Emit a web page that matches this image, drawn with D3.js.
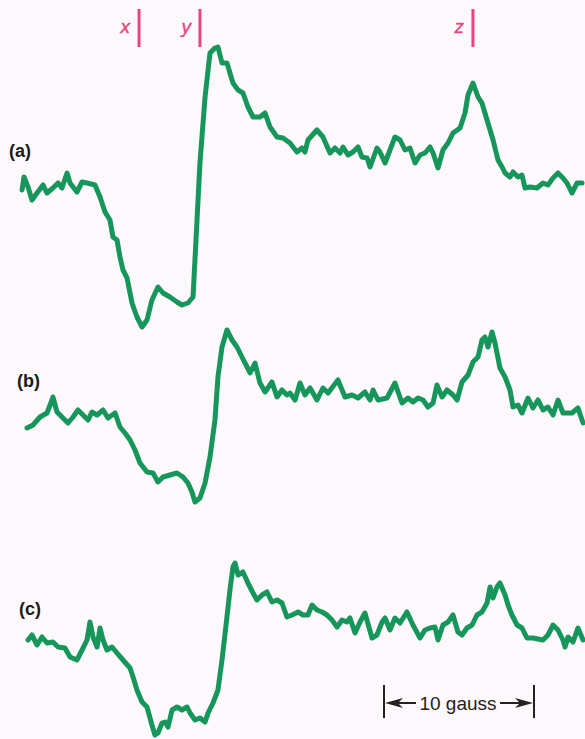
<!DOCTYPE html>
<html><head><meta charset="utf-8">
<script src="https://cdn.jsdelivr.net/npm/d3@7"></script>
<style>html,body{margin:0;padding:0;background:#fcf8fc;}svg{display:block;}</style>
</head><body><svg id="chart" width="585" height="739"></svg>
<script>
// Field in gauss (from left edge of sweep), signal in arbitrary units (derivative EPR)
const traceA = [[1.47,-0.5],[1.6,0.8],[1.87,-0.2],[2.13,-1.5],[2.47,-0.8],[2.87,0],[3.13,-0.8],[3.53,-0.3],[3.87,0.2],[4.13,-0.3],[4.47,1.2],[4.67,0.2],[5.13,-0.7],[5.47,0.3],[5.8,0.2],[6.33,0],[6.67,-1.2],[7,-2.7],[7.33,-3.5],[7.53,-5.2],[7.8,-5.5],[8,-7.2],[8.2,-8.5],[8.47,-9.3],[8.8,-11.8],[9.13,-13.2],[9.47,-14.2],[9.8,-13.5],[10.13,-11.5],[10.53,-10.2],[10.87,-10.8],[11.33,-11.2],[11.8,-11.7],[12.13,-12],[12.53,-11.8],[12.87,-11.2],[13.33,2.2],[13.67,8.8],[14,13.2],[14.33,13.7],[14.53,13.8],[14.8,12.2],[15.13,12.2],[15.53,10.2],[15.87,9.5],[16.2,9.2],[16.53,7.8],[16.87,6.8],[17.33,6.8],[17.67,7.2],[18,5.8],[18.47,4.8],[18.87,4.7],[19.33,4.2],[19.8,3.3],[20.13,3.7],[20.33,3.3],[20.53,4.5],[21.13,5.5],[21.53,4.8],[22,3.2],[22.33,3.7],[22.67,3.2],[22.87,3.8],[23.2,3],[23.53,3.3],[23.87,3.8],[24.13,2.8],[24.47,2.7],[24.67,1.8],[25.13,3.7],[25.33,3.3],[25.67,2.2],[26,3.5],[26.33,4.8],[26.67,4.5],[27,3.5],[27.33,3.7],[27.67,2.2],[28,3],[28.33,3.2],[28.67,3.8],[28.87,3.2],[29.2,1.7],[29.53,3.5],[29.87,4.2],[30.2,5.2],[30.67,5.7],[31,7.2],[31.2,9],[31.53,10.2],[31.87,8.8],[32.13,8.2],[32.47,6.5],[32.87,4.5],[33.2,2.5],[33.47,1.8],[33.67,1.2],[34,0.8],[34.2,1.3],[34.53,0.8],[34.8,1],[35,-0.3],[35.33,-0.2],[35.8,-0.3],[36.2,0.2],[36.53,0],[36.87,0.7],[37.2,1.2],[37.53,0.7],[37.8,0.2],[38.13,-0.8],[38.47,0.2],[38.8,0.2]];
const traceB = [[1.8,-1.3],[2.2,-1],[2.67,-0.2],[3.13,0.2],[3.47,1.5],[3.53,1.8],[3.8,0.3],[4.2,-0.3],[4.53,-0.8],[4.87,-0.2],[5.2,0.5],[5.53,0],[5.87,-0.5],[6.13,0.3],[6.47,0],[6.87,0.5],[7.2,-0.3],[7.67,0.2],[8,-1.2],[8.33,-1.8],[8.67,-2.5],[9,-3.5],[9.33,-4.8],[9.8,-5.7],[10.2,-5.8],[10.53,-6.7],[10.87,-6.2],[11.33,-6],[11.8,-5.8],[12.2,-6.2],[12.53,-6.8],[12.8,-7.7],[13,-8.7],[13.33,-8.3],[13.67,-6.8],[14,-4.2],[14.33,-0.5],[14.53,3.8],[14.8,6.8],[15.13,8.5],[15.47,7.5],[15.8,6.8],[16.13,5.8],[16.47,4.8],[16.67,4.2],[17,5.2],[17.33,3.2],[17.67,2.3],[18.13,3.3],[18.47,1.8],[18.8,2.5],[19.13,2],[19.33,2.2],[19.67,1.5],[20,3.2],[20.33,2],[20.67,2.7],[21.13,1.5],[21.53,2.7],[21.87,2.2],[22.53,3.5],[23,1.8],[23.47,2],[23.87,1.7],[24.33,2.3],[24.67,1.5],[24.87,2.5],[25.2,1.5],[25.8,1.7],[26.33,3.2],[26.8,1.2],[27.2,1.7],[27.53,1.3],[27.87,1.7],[28.2,1.5],[28.53,0.8],[28.87,1.2],[29.13,3],[29.47,1.8],[29.8,2.5],[30.2,2],[30.47,1.5],[30.8,3.3],[31.2,4],[31.53,5.3],[31.87,5.8],[32.13,7.5],[32.33,7.8],[32.53,6.8],[32.8,8.3],[33,7.2],[33.33,4.7],[33.67,3.8],[34,2.5],[34.2,0.8],[34.53,1],[34.8,0.2],[35.2,1.7],[35.53,0.7],[35.87,1.5],[36.2,0.5],[36.53,0.8],[36.87,0],[37.2,1.5],[37.53,0.2],[38.13,0.2],[38.53,0.7],[38.87,-0.8]];
const traceC = [[1.87,0],[2.13,0.5],[2.47,-0.5],[2.8,0.3],[3.13,-0.3],[3.53,-0.2],[3.87,-0.7],[4.33,-0.8],[4.67,-1.7],[5.13,-2],[5.47,-1],[5.8,0],[6,1.8],[6.2,0.3],[6.47,-0.7],[6.67,1.2],[6.87,0],[7.13,-1],[7.47,-0.7],[7.8,-1.3],[8.2,-2],[8.67,-2.8],[8.87,-3.7],[9.13,-5],[9.47,-6.2],[9.8,-6.7],[10.13,-8.5],[10.33,-9.5],[10.53,-9.3],[10.8,-8.3],[11,-8.2],[11.2,-8.7],[11.47,-7],[11.8,-6.7],[12.13,-7],[12.47,-6.7],[12.67,-7.3],[13,-8],[13.33,-7.8],[13.67,-8.2],[13.87,-7.3],[14.2,-6.3],[14.53,-5],[14.8,-2],[15.13,2.3],[15.33,5],[15.53,7.3],[15.67,7.7],[15.87,6.5],[16.2,6.8],[16.53,5.7],[16.87,4.7],[17.13,4],[17.47,4.5],[17.8,4.8],[18.13,3.8],[18.47,4],[18.8,3.7],[19.13,2.3],[19.47,2.5],[19.87,2.8],[20.2,2.5],[20.53,2.5],[20.8,3.5],[21.13,3],[21.47,2.8],[21.8,2.5],[22.13,2],[22.47,1.3],[22.8,2],[23.13,1.8],[23.33,2.2],[23.67,0.7],[24,1.8],[24.33,2.7],[24.8,0.2],[25.13,0.5],[25.47,1.8],[25.67,2.2],[26,1],[26.33,2.2],[26.67,1.7],[27.13,2.8],[27.53,1.5],[28,0.2],[28.33,1],[28.67,1.2],[29,1.3],[29.2,0],[29.53,1.5],[29.87,1.8],[30.2,2.5],[30.53,0.8],[30.8,0.5],[31.13,1.2],[31.47,1.5],[31.8,2.5],[32.13,2.8],[32.47,3.7],[32.67,5.3],[32.87,4.2],[33.13,5.3],[33.33,5.7],[33.67,4.5],[33.87,3.5],[34.13,2.5],[34.47,1.5],[34.8,1.2],[35.13,0.2],[35.53,0.2],[36.2,0],[36.53,0.5],[36.87,1.5],[37.2,1],[37.53,0],[37.67,-0.7],[37.87,0.3],[38.2,-0.2],[38.53,1.2],[38.87,0]];
const panelLabels = ["(a)", "(b)", "(c)"];
const markerNames = ["x", "y", "z"];
const markerFields = [9.27, 13.33, 31.53];
const scaleBarStart = 25.6;   // gauss
const scaleBarLength = 10;    // gauss
const scaleBarLabel = "10 gauss";

const W = 585, H = 739;
const svg = d3.select("#chart");
svg.append("rect").attr("width", W).attr("height", H).attr("fill", "#fcf8fc");

const x = d3.scaleLinear().domain([0, 39]).range([0, 585]);
const baselines = [185, 415, 640];
const traces = [traceA, traceB, traceC];
const green = "#17965c";
const pink = "#e8457f";

traces.forEach((tr, i) => {
  const y = d3.scaleLinear().domain([-15, 15]).range([baselines[i] + 150, baselines[i] - 150]);
  const line = d3.line().x(d => x(d[0])).y(d => y(d[1]));
  svg.append("path").datum(tr)
    .attr("d", line)
    .attr("fill", "none")
    .attr("stroke", green)
    .attr("stroke-width", 5)
    .attr("stroke-linejoin", "round")
    .attr("stroke-linecap", "round");
});

// panel labels
const labelPos = [[9, 157], [17, 387], [19, 615]];
panelLabels.forEach((t, i) => {
  svg.append("text").text(t)
    .attr("x", labelPos[i][0]).attr("y", labelPos[i][1])
    .attr("font-family", "Liberation Sans, Arial, sans-serif")
    .attr("font-weight", "bold").attr("font-size", 18).attr("fill", "#1a1a1a");
});

// x, y, z markers
markerNames.forEach((n, i) => {
  const px = x(markerFields[i]);
  svg.append("line").attr("x1", px).attr("x2", px).attr("y1", 9).attr("y2", 47)
    .attr("stroke", pink).attr("stroke-width", 3);
  svg.append("text").text(n)
    .attr("x", px - 9).attr("y", 33)
    .attr("text-anchor", "end")
    .attr("font-family", "Liberation Sans, Arial, sans-serif")
    .attr("font-style", "italic").attr("font-size", 19).attr("fill", pink)
    .attr("stroke", pink).attr("stroke-width", 0.4);
});

// scale bar
const sx0 = x(scaleBarStart), sx1 = x(scaleBarStart + scaleBarLength);
const sy = 703;
const bar = svg.append("g").attr("stroke", "#222").attr("fill", "#222");
bar.append("line").attr("x1", sx0).attr("x2", sx0).attr("y1", 685).attr("y2", 718).attr("stroke-width", 2);
bar.append("line").attr("x1", sx1).attr("x2", sx1).attr("y1", 685).attr("y2", 718).attr("stroke-width", 2);
const mid = (sx0 + sx1) / 2 - 1;
bar.append("line").attr("x1", sx0 + 8).attr("x2", mid - 42).attr("y1", sy).attr("y2", sy).attr("stroke-width", 2);
bar.append("line").attr("x1", mid + 42).attr("x2", sx1 - 8).attr("y1", sy).attr("y2", sy).attr("stroke-width", 2);
bar.append("path").attr("d", `M${sx0 + 1},${sy} L${sx0 + 19},${sy - 5} L${sx0 + 14},${sy} L${sx0 + 19},${sy + 5} Z`).attr("stroke", "none");
bar.append("path").attr("d", `M${sx1 - 1},${sy} L${sx1 - 19},${sy - 5} L${sx1 - 14},${sy} L${sx1 - 19},${sy + 5} Z`).attr("stroke", "none");
svg.append("text").text(scaleBarLabel)
  .attr("x", mid).attr("y", sy + 7)
  .attr("text-anchor", "middle")
  .attr("font-family", "Liberation Sans, Arial, sans-serif")
  .attr("font-size", 19).attr("fill", "#222");
</script>
</body></html>
